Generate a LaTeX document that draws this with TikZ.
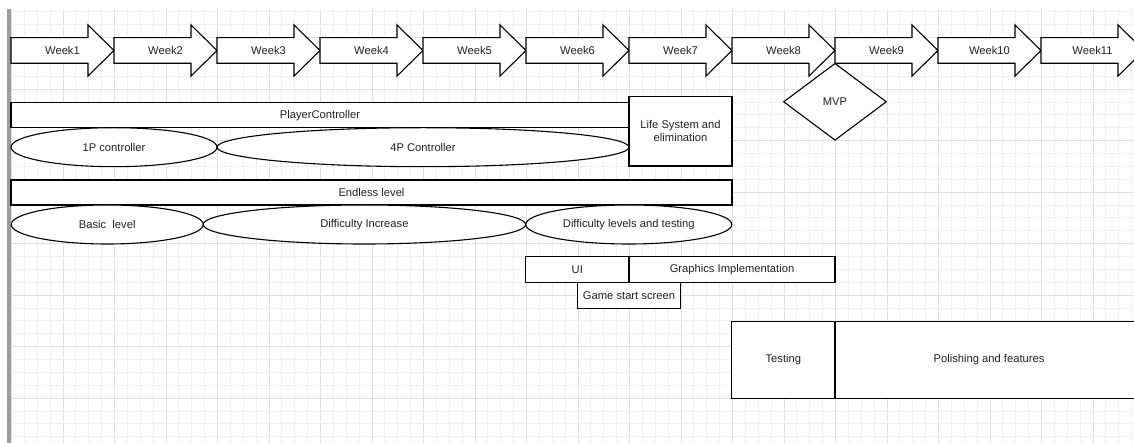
\documentclass[tikz,border=0pt]{standalone}
\usepackage{fontspec}
\setmainfont{Liberation Sans}
\usetikzlibrary{shapes.geometric}
\definecolor{gridminor}{HTML}{F0F0F0}
\definecolor{gridmajor}{HTML}{E0E0E0}
\definecolor{barcol}{HTML}{9C9C9C}
\definecolor{txt}{HTML}{222222}
\tikzset{
  shp/.style={draw=black, line width=1.1pt, fill=white, text=txt, inner sep=0pt,
    font=\fontsize{11.2}{13.4}\selectfont},
  box/.style={shp, rectangle},
  oval/.style={shp, ellipse},
  gate/.style={shp, diamond},
  lbl/.style={text=txt, inner sep=0pt, font=\fontsize{11.2}{13.4}\selectfont},
  arrowshape/.style={draw=black, line width=1.1pt, fill=white, line join=miter},
}
\begin{document}
\begin{tikzpicture}[x=1pt,y=-1pt]
\useasboundingbox (0,0) rectangle (1134,443);
\clip (0,0) rectangle (1134,443);
% grid
\foreach \k in {0,...,87} {
  \pgfmathsetmacro\gx{11.5+12.875*\k}
  \pgfmathtruncatemacro\m{mod(\k,4)}
  \ifnum\m=0
    \draw[gridmajor, line width=0.8pt] (\gx,9) -- (\gx,443);
  \else
    \draw[gridminor, line width=0.8pt] (\gx,9) -- (\gx,443);
  \fi
}
\foreach \k in {0,...,33} {
  \pgfmathsetmacro\gy{11.8+12.875*\k}
  \pgfmathtruncatemacro\m{mod(\k,4)}
  \ifnum\m=2
    \draw[gridmajor, line width=0.8pt] (11,\gy) -- (1134,\gy);
  \else
    \draw[gridminor, line width=0.8pt] (11,\gy) -- (1134,\gy);
  \fi
}
\fill[barcol] (7.3,9) rectangle (11,443);
% week arrows
\foreach \i in {1,...,11} {
  \pgfmathsetmacro\ax{11+103*(\i-1)}
  \draw[arrowshape] (\ax,37.7) -- ++(77,0) -- ++(0,-12.7) -- ++(26,25.5)
    -- ++(-26,25.5) -- ++(0,-12.7) -- ++(-77,0) -- cycle;
  \node[lbl] (w\i) at (\ax+51.5,50.5) {Week\i};
}
% MVP
\node[gate, minimum width=103pt, minimum height=77pt] (mvp) at (835,101.8) {MVP};
% Player controller row
\node[box, minimum width=618pt, minimum height=25pt] (pc) at (320,115.2) {PlayerController};
\node[oval, minimum width=206pt, minimum height=39pt] (p1) at (114,147.2) {1P controller};
\node[oval, minimum width=412pt, minimum height=39pt] (p4) at (423,147.2) {4P Controller};
\node[box, minimum width=103pt, minimum height=69.5pt, align=center] (life) at (680.5,131.3)
  {Life System and\\elimination};
% Endless level row
\node[box, minimum width=721pt, minimum height=25pt] (endless) at (371.5,192.5) {Endless level};
\node[oval, minimum width=192pt, minimum height=39pt] (basic) at (107.2,224.5) {Basic\ \ level};
\node[oval, minimum width=322.6pt, minimum height=39pt] (diff) at (364.4,224.5) {Difficulty Increase};
\node[oval, minimum width=206pt, minimum height=39pt] (difft) at (628.8,224.5) {Difficulty levels and testing};
% UI row
\node[box, minimum width=103.3pt, minimum height=25.6pt] (ui) at (577.3,269.5) {UI};
\node[box, minimum width=206pt, minimum height=25.6pt] (gfx) at (732,269.5) {Graphics Implementation};
\node[box, minimum width=103.4pt, minimum height=26pt] (gss) at (629,295.3) {Game start screen};
% Testing row
\node[box, minimum width=103.3pt, minimum height=76.6pt] (test) at (783.3,360) {Testing};
\node[box, minimum width=308pt, minimum height=76.6pt] (polish) at (989,360) {Polishing and features};
\end{tikzpicture}
\end{document}
